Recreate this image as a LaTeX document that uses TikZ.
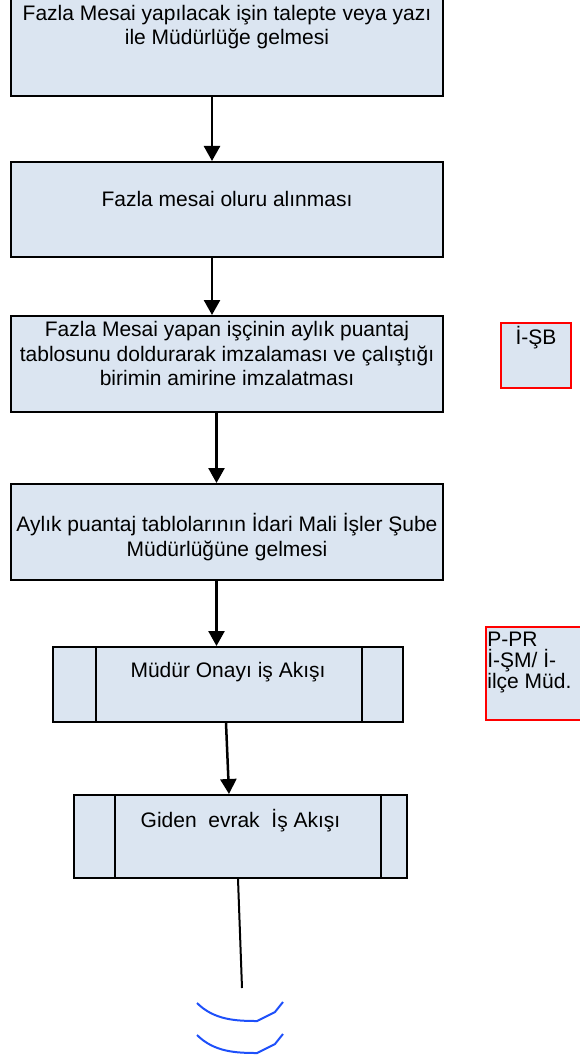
\documentclass[tikz,border=0pt]{standalone}
\usepackage{fontspec}
\setmainfont{Liberation Sans}
\usepackage{tikz}
\usetikzlibrary{arrows.meta}
\usetikzlibrary{calc}

\definecolor{boxfill}{RGB}{219,229,241}
\definecolor{wavecol}{RGB}{30,80,250}

\tikzset{
	box/.style={draw,line width=2pt,fill=boxfill,shape=rectangle,inner sep=0pt},
	sidebox/.style={draw=red,line width=1.6pt,fill=boxfill,shape=rectangle,inner sep=0pt},
	txt/.style={inner sep=0pt,align=center,font=\fontsize{21}{24.5}\selectfont},
	sidetxt/.style={inner sep=0pt,align=left,font=\fontsize{21}{21}\selectfont},
	arr/.style={line width=2.5pt,-{Triangle[length=15pt,width=16pt]}},
	wave/.style={draw=wavecol,line width=2pt},
}

\begin{document}
\begin{tikzpicture}[x=1pt,y=-1pt]
	\useasboundingbox (0,0) rectangle (579,1059);
	% main flow
	\draw (227,47.5) node (b1) [box,minimum width=432pt,minimum height=97pt] {};
	\draw (227,209.5) node (b2) [box,minimum width=432pt,minimum height=95pt] {};
	\draw (227,364) node (b3) [box,minimum width=432pt,minimum height=96pt] {};
	\draw (227,532) node (b4) [box,minimum width=432pt,minimum height=96pt] {};
	\draw (228,684.5) node (b5) [box,minimum width=350pt,minimum height=75pt] {};
	\draw (240.5,836.5) node (b6) [box,minimum width=333pt,minimum height=83pt] {};
	\draw[line width=2pt] (b5.north west) ++(44,0) -- ++(0,75);
	\draw[line width=2pt] (b5.north east) ++(-42,0) -- ++(0,75);
	\draw[line width=2pt] (b6.north west) ++(42,0) -- ++(0,83);
	\draw[line width=2pt] (b6.north east) ++(-27,0) -- ++(0,83);
	\draw (b1.north) ++(0,29) node (t1) [txt] {Fazla Mesai yapılacak işin talepte veya yazı\\ile Müdürlüğe gelmesi};
	\draw (b2.north) ++(0,38) node (t2) [txt] {Fazla mesai oluru alınması};
	\draw (b3.north) ++(0,38.5) node (t3) [txt] {Fazla Mesai yapan işçinin aylık puantaj\\tablosunu doldurarak imzalaması ve çalıştığı\\birimin amirine imzalatması};
	\draw (b4.north) ++(0,54) node (t4) [txt] {Aylık puantaj tablolarının İdari Mali İşler Şube\\Müdürlüğüne gelmesi};
	\draw (b5.north) ++(0,26) node (t5) [txt] {Müdür Onayı iş Akışı};
	\draw (b6.north) ++(0,27) node (t6) [txt] {Giden~~evrak~~İş Akışı};
	% side notes
	\draw (536,355.5) node (sa) [sidebox,minimum width=70pt,minimum height=65pt] {};
	\draw (sa.north) ++(0,15) node (sat) [txt] {İ-ŞB};
	\draw (539,673.5) node (sb) [sidebox,minimum width=106pt,minimum height=93pt] {};
	\draw (sb.north west) ++(2,36) node (sbt) [sidetxt,anchor=west] {P-PR\\İ-ŞM/ İ-\\ilçe Müd.};
	% connectors
	\draw[arr] (b1.south -| 212,0) -- (b2.north -| 212,0);
	\draw[arr] (b2.south -| 212,0) -- (b3.north -| 212,0);
	\draw[arr] (b3.south -| 216.5,0) -- (b4.north -| 216.5,0);
	\draw[arr] (b4.south -| 216.5,0) -- (b5.north -| 216.5,0);
	\draw[arr] (b5.south -| 226,0) -- (b6.north -| 229,0);
	\coordinate (end) at (242,988);
	\draw[line width=2pt] (b6.south -| 238,0) -- (end);
	\foreach \d in {0,32} {
		\draw[wave] (197,1003+\d) .. controls (214,1020+\d) and (236,1021+\d) .. (257,1021+\d) -- (275,1012+\d) -- (283,1002+\d);
	};
\end{tikzpicture}
\end{document}
